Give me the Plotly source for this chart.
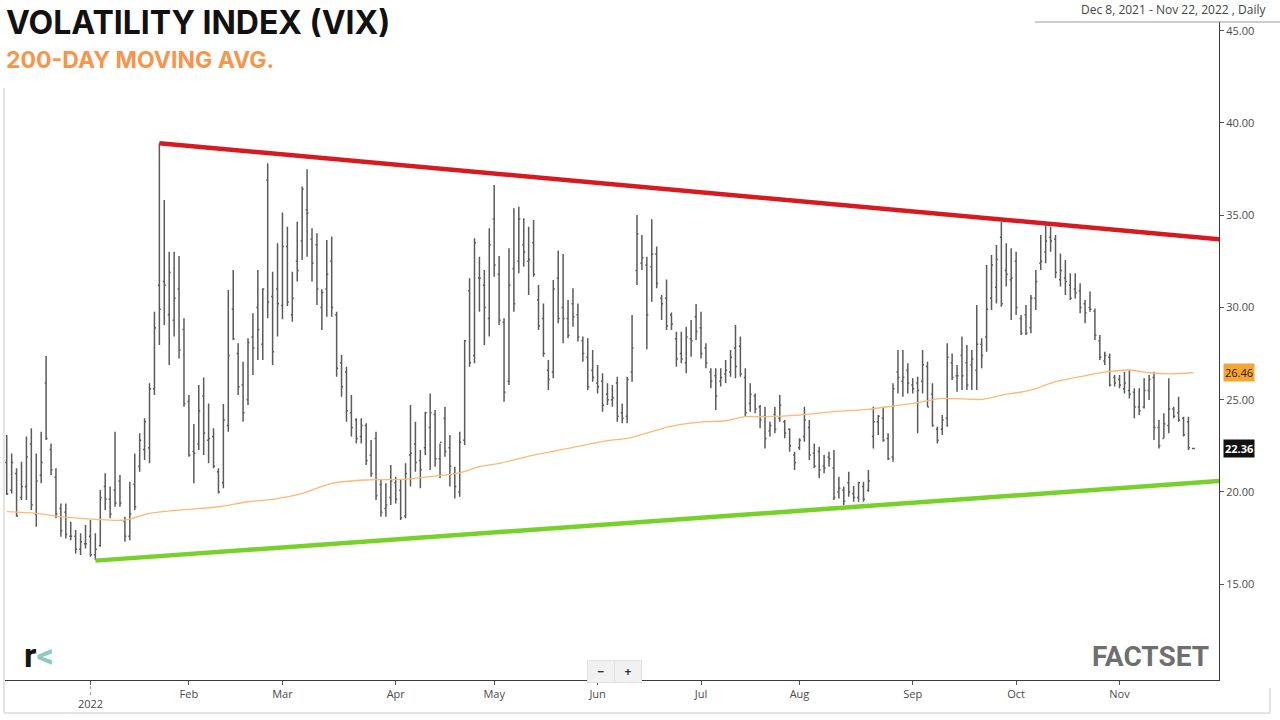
import plotly.graph_objects as go
import pandas as pd

# ---------------- trading calendar ----------------
holidays = ["2021-12-24", "2022-01-17", "2022-02-21", "2022-04-15", "2022-05-30",
            "2022-06-20", "2022-07-04", "2022-09-05", "2022-11-24"]
_days = pd.bdate_range("2021-12-08", "2022-12-02")
calendar = [d.strftime("%Y-%m-%d") for d in _days if d.strftime("%Y-%m-%d") not in holidays]
last_date = "2022-11-22"
dates = calendar[:calendar.index(last_date) + 1]

# ---------------- daily OHLC ----------------
high_dec = [23.09, 22.09, 21.28, 21.64, 23.00, 23.45, 22.09, 23.27, 27.37, 22.63, 21.28, 19.38, 19.38, 18.39, 17.94, 17.76, 18.21]
low_dec = [19.83, 19.92, 18.66, 19.56, 19.56, 19.02, 18.12, 20.47, 22.81, 20.92, 18.57, 17.57, 17.48, 17.39, 16.67, 16.58, 16.94]
open_dec = [21.6, 20.1, 21.0, 19.7, 20.3, 22.6, 18.8, 20.9, 25.9, 22.3, 20.8, 19.1, 18.9, 17.6, 17.6, 16.9, 17.2]
close_dec = [19.9, 21.6, 18.7, 20.3, 21.9, 19.3, 20.6, 21.6, 22.9, 21.2, 18.8, 17.9, 17.7, 17.6, 16.9, 17.3, 17.2]

high_jan = [18.48, 17.76, 20.11, 21.01, 20.29, 23.27, 20.92, 18.66, 20.56, 22.09, 23.18, 23.99, 25.89, 29.77, 38.90, 35.83, 33.02, 33.02, 32.79, 29.41]
low_jan = [16.49, 16.31, 17.03, 19.02, 18.57, 19.20, 19.20, 17.30, 17.39, 19.02, 21.10, 21.73, 21.55, 25.25, 27.97, 29.05, 26.88, 28.42, 27.24, 24.62]
open_jan = [17.6, 16.6, 17.1, 20.3, 19.6, 20.1, 20.6, 18.4, 17.6, 20.4, 21.4, 22.3, 22.4, 25.6, 31.2, 31.4, 29.6, 29.3, 31.0, 28.8]
close_jan = [16.6, 16.9, 19.7, 19.6, 18.8, 19.4, 19.4, 17.6, 18.8, 19.2, 22.8, 23.8, 25.6, 28.9, 29.9, 31.2, 31.9, 30.5, 27.7, 24.8]

high_feb = [25.25, 23.68, 25.80, 26.21, 24.80, 23.45, 21.28, 24.77, 30.95, 32.03, 28.06, 27.06, 28.33, 29.68, 32.03, 31.04, 37.81, 31.94, 33.48]
low_feb = [21.91, 20.47, 22.27, 22.00, 21.55, 21.28, 19.92, 20.20, 23.27, 28.24, 25.25, 23.81, 24.71, 26.34, 27.15, 27.15, 29.41, 26.88, 28.42]
open_feb = [24.9, 22.2, 22.6, 25.2, 22.8, 23.0, 21.1, 20.5, 23.6, 29.9, 27.5, 25.8, 25.0, 28.4, 30.0, 28.0, 36.9, 30.6, 31.0]
close_feb = [22.0, 22.1, 24.4, 23.2, 22.9, 21.4, 20.0, 23.9, 27.4, 28.3, 25.7, 24.3, 28.1, 27.8, 28.8, 31.0, 30.3, 27.6, 30.2]

high_mar = [35.14, 34.38, 31.94, 34.65, 36.55, 37.49, 34.29, 34.02, 30.98, 33.66, 33.84, 29.77, 27.42, 26.79, 25.25, 23.99, 23.99, 23.72, 22.82, 23.27, 20.65, 20.47, 21.46]
low_mar = [29.36, 30.08, 29.23, 31.40, 32.57, 32.75, 31.40, 30.13, 28.78, 29.50, 29.50, 26.25, 25.16, 23.81, 23.00, 22.63, 22.63, 21.46, 20.83, 19.56, 18.66, 18.66, 19.29]
open_mar = [30.1, 33.3, 29.6, 32.5, 33.6, 35.3, 33.7, 33.4, 30.0, 31.0, 32.5, 29.6, 27.0, 26.5, 24.3, 23.9, 23.0, 23.6, 22.0, 22.9, 20.4, 19.1, 19.7]
close_mar = [33.3, 30.3, 30.5, 32.0, 36.4, 35.1, 32.4, 31.0, 30.8, 31.8, 30.0, 26.7, 25.7, 24.4, 23.5, 22.9, 23.6, 21.7, 21.0, 19.8, 18.9, 19.3, 20.6]

high_apr = [20.83, 20.65, 21.55, 24.71, 23.81, 22.27, 24.35, 25.34, 24.44, 22.63, 24.62, 23.09, 21.37, 23.27, 28.24, 31.58, 33.75, 32.75, 32.03, 34.29]
low_apr = [19.38, 18.48, 18.57, 20.29, 21.10, 20.20, 22.00, 21.19, 21.37, 20.74, 21.91, 20.29, 19.65, 19.74, 22.54, 26.79, 26.97, 29.77, 27.97, 28.42]
open_apr = [20.5, 20.1, 18.7, 22.0, 22.6, 21.7, 22.4, 23.5, 24.2, 21.8, 24.0, 22.4, 21.0, 20.0, 22.8, 30.9, 27.4, 31.6, 31.2, 29.4]
close_apr = [19.6, 18.6, 21.0, 22.1, 21.6, 21.2, 24.3, 24.3, 21.8, 22.7, 22.2, 21.4, 20.3, 22.7, 28.2, 27.0, 33.5, 31.6, 30.0, 33.4]

high_may = [36.64, 32.79, 29.41, 33.21, 35.37, 35.46, 34.83, 34.38, 34.74, 31.22, 30.22, 27.15, 31.49, 33.08, 32.90, 30.40, 31.04, 30.22, 28.42, 28.33, 27.69]
low_may = [31.67, 29.05, 24.89, 25.80, 29.77, 31.85, 32.21, 30.68, 31.67, 28.78, 27.33, 25.52, 26.16, 29.14, 28.06, 28.33, 28.96, 28.15, 27.06, 25.52, 25.98]
open_may = [34.8, 31.8, 29.2, 26.0, 32.1, 32.5, 33.4, 32.5, 33.5, 30.4, 29.4, 26.6, 26.5, 31.6, 30.0, 29.4, 30.2, 29.6, 28.2, 27.3, 26.6]
close_may = [32.3, 29.3, 25.4, 31.2, 30.2, 34.8, 33.0, 32.6, 31.8, 29.0, 27.5, 26.1, 31.0, 29.4, 29.4, 28.5, 29.5, 28.4, 27.5, 25.7, 26.2]

high_jun = [26.88, 26.43, 25.89, 25.80, 26.25, 24.80, 26.25, 29.59, 35.01, 33.93, 32.75, 34.78, 33.30, 30.68, 31.52, 29.72, 28.69, 28.69, 28.96, 29.32, 30.19]
low_jun = [25.34, 24.35, 24.71, 24.62, 23.81, 23.72, 23.72, 25.98, 31.22, 32.03, 27.73, 30.31, 31.04, 29.32, 28.78, 28.78, 26.79, 26.97, 26.43, 27.33, 28.24]
open_jun = [25.9, 26.0, 25.3, 25.0, 25.9, 24.3, 24.1, 26.5, 32.0, 32.4, 32.3, 32.2, 32.9, 30.5, 30.5, 29.6, 28.3, 27.5, 27.0, 28.3, 29.5]
close_jun = [25.7, 24.7, 25.0, 25.1, 24.1, 24.0, 26.1, 27.8, 34.0, 32.7, 29.6, 32.9, 31.3, 30.2, 29.0, 29.1, 27.2, 27.2, 28.4, 28.2, 28.7]

high_jul = [29.77, 28.06, 26.70, 26.70, 26.70, 27.15, 27.69, 29.05, 28.42, 26.70, 25.89, 25.34, 24.71, 24.62, 23.81, 24.62, 25.25, 23.90, 23.45, 22.18]
low_jul = [27.24, 26.70, 25.62, 24.44, 25.71, 25.89, 26.25, 26.16, 26.25, 24.08, 24.35, 24.26, 23.45, 22.36, 23.00, 23.18, 23.81, 22.91, 22.18, 21.19]
open_jul = [28.9, 27.8, 26.5, 26.3, 26.0, 26.4, 26.5, 27.8, 27.9, 26.2, 24.8, 25.2, 24.6, 24.1, 23.3, 24.2, 24.0, 23.8, 23.4, 22.0]
close_jul = [27.5, 27.0, 26.0, 25.2, 26.2, 26.6, 27.3, 26.8, 26.4, 24.3, 25.3, 24.5, 23.9, 22.9, 23.6, 23.4, 24.7, 23.2, 22.5, 21.6]

high_aug = [22.91, 24.62, 23.90, 22.63, 22.45, 22.00, 22.18, 22.27, 20.83, 20.29, 21.10, 20.32, 20.56, 20.56, 21.19, 24.62, 24.17, 24.62, 23.18, 25.89, 27.69, 27.69, 26.97]
low_aug = [22.27, 22.72, 21.73, 21.28, 20.74, 21.01, 21.37, 19.56, 19.65, 19.29, 19.74, 19.47, 19.47, 19.47, 20.01, 22.36, 23.09, 22.72, 21.73, 21.64, 25.34, 25.16, 25.34]
open_aug = [22.4, 23.0, 23.5, 22.1, 22.2, 21.4, 21.9, 21.3, 20.0, 20.1, 20.5, 19.9, 19.7, 20.3, 20.1, 23.0, 23.8, 24.0, 22.9, 21.9, 26.5, 26.0, 26.6]
close_aug = [22.8, 23.9, 22.0, 21.4, 21.2, 21.3, 21.8, 19.7, 20.2, 19.5, 20.0, 19.7, 20.5, 19.6, 20.6, 23.8, 24.1, 22.8, 21.8, 25.6, 26.2, 26.2, 25.9]

high_sep = [26.16, 26.25, 27.69, 27.06, 25.89, 23.54, 24.17, 28.06, 27.51, 26.88, 28.42, 27.97, 27.69, 30.13, 28.33, 32.30, 32.84, 33.39, 34.65, 33.48, 33.21]
low_sep = [25.34, 23.18, 25.34, 24.62, 23.54, 22.63, 23.09, 23.54, 26.07, 25.43, 25.52, 25.52, 25.52, 25.52, 26.70, 27.60, 29.86, 30.22, 30.04, 31.13, 29.32]
open_sep = [25.8, 25.9, 26.0, 26.8, 25.3, 23.4, 23.4, 24.0, 27.0, 26.3, 27.4, 27.0, 26.9, 26.6, 28.0, 28.4, 30.5, 31.1, 33.8, 32.0, 31.5]
close_sep = [25.6, 25.5, 26.9, 24.6, 23.6, 22.8, 23.9, 27.3, 26.2, 26.3, 26.3, 25.8, 27.2, 28.0, 27.4, 29.9, 32.3, 32.6, 30.2, 31.8, 31.6]

high_oct = [33.02, 29.59, 30.13, 30.68, 32.03, 33.93, 34.47, 34.38, 33.93, 32.93, 32.57, 31.85, 31.85, 31.31, 30.40, 30.86, 29.95, 28.51, 27.60, 27.51, 26.34]
low_oct = [29.59, 28.51, 28.51, 28.60, 29.86, 32.03, 32.39, 33.02, 31.58, 31.13, 30.68, 30.40, 30.49, 29.68, 29.14, 29.77, 28.24, 27.15, 26.88, 25.71, 25.71]
open_oct = [32.5, 29.4, 29.6, 28.9, 30.5, 32.4, 33.0, 33.8, 33.7, 31.5, 31.6, 31.2, 31.0, 30.9, 30.2, 30.0, 29.8, 28.2, 27.1, 27.3, 26.2]
close_oct = [30.0, 28.6, 28.6, 30.5, 31.4, 32.5, 33.6, 33.6, 31.9, 32.0, 31.4, 30.5, 30.8, 30.0, 29.7, 29.9, 28.5, 27.3, 27.4, 25.8, 25.9]

high_nov = [26.34, 26.52, 26.61, 25.62, 25.62, 26.16, 26.34, 26.52, 23.90, 24.26, 26.16, 24.62, 25.16, 24.08, 24.08, 22.36]
low_nov = [25.62, 25.34, 25.07, 23.99, 24.17, 24.53, 24.98, 22.81, 22.36, 22.91, 23.18, 23.99, 23.81, 23.00, 22.27, 22.36]
open_nov = [26.1, 25.6, 25.5, 25.4, 24.6, 24.6, 25.5, 26.2, 23.5, 22.9, 23.6, 24.5, 24.3, 24.0, 23.8, 22.36]
close_nov = [25.8, 25.9, 25.3, 24.6, 24.4, 25.5, 26.1, 23.5, 22.5, 23.7, 24.5, 24.1, 23.9, 23.1, 22.4, 22.36]

highs = high_dec + high_jan + high_feb + high_mar + high_apr + high_may + high_jun + high_jul + high_aug + high_sep + high_oct + high_nov
lows = low_dec + low_jan + low_feb + low_mar + low_apr + low_may + low_jun + low_jul + low_aug + low_sep + low_oct + low_nov
opens = open_dec + open_jan + open_feb + open_mar + open_apr + open_may + open_jun + open_jul + open_aug + open_sep + open_oct + open_nov
closes = close_dec + close_jan + close_feb + close_mar + close_apr + close_may + close_jun + close_jul + close_aug + close_sep + close_oct + close_nov
assert len(highs) == len(lows) == len(opens) == len(closes) == len(dates)

# ---------------- 200-day moving average ----------------
ma_dates = ["2021-12-08", "2021-12-16", "2021-12-23", "2022-01-04", "2022-01-12", "2022-01-20", "2022-01-28",
            "2022-02-09", "2022-02-17", "2022-02-25", "2022-03-07", "2022-03-15", "2022-03-24", "2022-04-04",
            "2022-04-13", "2022-04-21", "2022-04-27", "2022-05-03", "2022-05-12", "2022-05-23", "2022-06-03",
            "2022-06-09", "2022-06-16", "2022-06-23", "2022-07-05", "2022-07-11", "2022-07-15", "2022-07-21",
            "2022-08-01", "2022-08-10", "2022-08-19", "2022-08-26", "2022-09-01", "2022-09-12", "2022-09-22",
            "2022-09-28", "2022-10-06", "2022-10-13", "2022-10-20", "2022-10-26", "2022-11-03", "2022-11-09",
            "2022-11-15", "2022-11-22"]
ma_values = [18.93, 18.84, 18.66, 18.52, 18.48, 18.84, 19.02,
             19.20, 19.47, 19.60, 19.92, 20.47, 20.65, 20.68,
             20.86, 21.04, 21.37, 21.55, 22.00, 22.36, 22.78,
             22.90, 23.27, 23.57, 23.81, 23.86, 24.08, 24.08,
             24.17, 24.35, 24.48, 24.66, 24.80, 25.07, 25.02,
             25.25, 25.52, 25.98, 26.25, 26.46, 26.61, 26.46,
             26.40, 26.46]

# ---------------- trend lines (anchor points) ----------------
red_anchor_dates = ["2022-01-24", "2022-10-11"]
red_anchor_values = [38.90, 34.55]
green_anchor_dates = ["2022-01-04", "2022-08-16"]
green_anchor_values = [16.28, 19.19]

# ---------------- axis labels ----------------
tick_dates = ["2022-01-03", "2022-02-01", "2022-03-01", "2022-04-01", "2022-05-02", "2022-06-01",
              "2022-07-01", "2022-08-01", "2022-09-01", "2022-10-03", "2022-11-01"]
tick_labels = ["", "Feb", "Mar", "Apr", "May", "Jun", "Jul", "Aug", "Sep", "Oct", "Nov"]
year_label = "2022"
year_date = "2022-01-03"
y_ticks = [15, 20, 25, 30, 35, 40, 45]

last_close = closes[-1]
last_ma = ma_values[-1]


def extend_line(anchor_dates, anchor_values, end_date):
    i0 = calendar.index(anchor_dates[0])
    i1 = calendar.index(anchor_dates[1])
    ie = calendar.index(end_date)
    slope = (anchor_values[1] - anchor_values[0]) / (i1 - i0)
    return [anchor_dates[0], end_date], [anchor_values[0], anchor_values[0] + slope * (ie - i0)]


end_date = calendar[-1]
red_x, red_y = extend_line(red_anchor_dates, red_anchor_values, end_date)
green_x, green_y = extend_line(green_anchor_dates, green_anchor_values, end_date)

BAR = "#5b5b5b"
fig = go.Figure()
fig.add_trace(go.Ohlc(
    x=dates, open=opens, high=highs, low=lows, close=closes,
    increasing=dict(line=dict(color=BAR, width=1.5)),
    decreasing=dict(line=dict(color=BAR, width=1.5)),
    tickwidth=0.3, hoverinfo="skip", showlegend=False,
))
fig.add_trace(go.Scatter(x=ma_dates, y=ma_values, mode="lines",
                         line=dict(color="#FDB877", width=1.3, shape="spline", smoothing=0.8),
                         hoverinfo="skip", showlegend=False))
fig.add_trace(go.Scatter(x=red_x, y=red_y, mode="lines",
                         line=dict(color="#D71920", width=4.5),
                         hoverinfo="skip", showlegend=False))
fig.add_trace(go.Scatter(x=green_x, y=green_y, mode="lines",
                         line=dict(color="#78D12B", width=4.5),
                         hoverinfo="skip", showlegend=False))

L, R, T, B = 5, 61, 22, 40
W, H = 1280, 720
pw, ph = W - L - R, H - T - B


def px(x):
    return (x - L) / pw


def py(y):
    return (H - B - y) / ph


jan_idx = calendar.index(year_date)
axis_font = dict(family="Open Sans, Lato, sans-serif", size=11, color="#4a4a4a")

annotations = [
    dict(text="<b>VOLATILITY INDEX (VIX)</b>", x=px(4), y=py(22), xref="paper", yref="paper",
         xanchor="left", yanchor="middle", showarrow=False,
         font=dict(family="Inter, Lato, sans-serif", size=32, color="#111111")),
    dict(text="<b>200-DAY MOVING AVG.</b>", x=px(4), y=py(60), xref="paper", yref="paper",
         xanchor="left", yanchor="middle", showarrow=False,
         font=dict(family="Inter, Lato, sans-serif", size=23, color="#F7954D")),
    dict(text="Dec 8, 2021 - Nov 22, 2022 , Daily", x=px(1268), y=py(10), xref="paper", yref="paper",
         xanchor="right", yanchor="middle", showarrow=False,
         font=dict(family="Open Sans, Lato, sans-serif", size=12, color="#444444")),
    dict(text=f"{last_ma:.2f}", x=1.003, y=last_ma, xref="paper", yref="y",
         xanchor="left", yanchor="middle", showarrow=False, bgcolor="#F5A532", borderpad=1,
         font=dict(family="Open Sans, sans-serif", size=11, color="#222222")),
    dict(text=f"<b>{last_close:.2f}</b>", x=1.003, y=last_close, xref="paper", yref="y",
         xanchor="left", yanchor="middle", showarrow=False, bgcolor="#111111", borderpad=1,
         font=dict(family="Open Sans, sans-serif", size=11, color="#ffffff")),
    dict(text=year_label, x=jan_idx, y=py(703), xref="x", yref="paper",
         xanchor="center", yanchor="middle", showarrow=False,
         font=axis_font),
    dict(text="<b>FACTSET</b>", x=px(1211), y=py(656), xref="paper", yref="paper",
         xanchor="right", yanchor="middle", showarrow=False,
         font=dict(family="Roboto, sans-serif", size=28, color="#6f6f6f")),
    dict(text='<b><span style="color:#151515">r</span><span style="color:#8fc9bd">&lt;</span></b>',
         x=px(22), y=py(655), xref="paper", yref="paper",
         xanchor="left", yanchor="middle", showarrow=False,
         font=dict(family="Roboto, sans-serif", size=34, color="#151515")),
    dict(text="<b>−</b>", x=px(601), y=py(671), xref="paper", yref="paper",
         xanchor="center", yanchor="middle", showarrow=False, bgcolor="#f1f1f1",
         bordercolor="#e2e2e2", borderwidth=1, borderpad=2, width=22,
         font=dict(family="Open Sans, sans-serif", size=12, color="#333333")),
    dict(text="<b>+</b>", x=px(628), y=py(671), xref="paper", yref="paper",
         xanchor="center", yanchor="middle", showarrow=False, bgcolor="#f1f1f1",
         bordercolor="#e2e2e2", borderwidth=1, borderpad=2, width=22,
         font=dict(family="Open Sans, sans-serif", size=12, color="#333333")),
]

shapes = [
    dict(type="line", xref="paper", yref="paper", x0=px(1035), x1=px(1280), y0=1, y1=1,
         line=dict(color="#9a9a9a", width=1)),
    dict(type="line", xref="x", yref="paper", x0=jan_idx, x1=jan_idx, y0=py(686), y1=py(696),
         line=dict(color="#999999", width=1, dash="dot")),
    dict(type="line", xref="paper", yref="paper", x0=px(4), x1=px(4), y0=py(88), y1=py(713),
         line=dict(color="#e4e4e4", width=2)),
    dict(type="line", xref="paper", yref="paper", x0=px(4), x1=px(1270), y0=py(713), y1=py(713),
         line=dict(color="#e4e4e4", width=2)),
    dict(type="line", xref="paper", yref="paper", x0=px(1270), x1=px(1270), y0=py(688), y1=py(713),
         line=dict(color="#e4e4e4", width=2)),
]

fig.update_layout(
    width=W, height=H,
    margin=dict(l=L, r=R, t=T, b=B, autoexpand=False),
    paper_bgcolor="white", plot_bgcolor="white",
    hovermode=False, showlegend=False,
    annotations=annotations, shapes=shapes,
    xaxis=dict(
        type="category", categoryorder="array", categoryarray=calendar,
        range=[-0.35, 246.2], rangeslider=dict(visible=False),
        showgrid=False, zeroline=False,
        showline=True, linecolor="#3a3a3a", linewidth=1,
        ticks="outside", ticklen=4, tickcolor="#555555",
        tickmode="array", tickvals=tick_dates, ticktext=tick_labels,
        tickfont=axis_font,
    ),
    yaxis=dict(
        side="right", range=[9.81, 45.47],
        showgrid=False, zeroline=False,
        showline=True, linecolor="#3a3a3a", linewidth=1,
        ticks="outside", ticklen=4, tickcolor="#555555",
        tickmode="array", tickvals=y_ticks, ticktext=[f"{v:.2f}" for v in y_ticks],
        tickfont=axis_font,
    ),
)

fig.write_html("out.html", config={"displayModeBar": False},
               post_script="document.body.style.margin='0';document.body.style.overflow='hidden';")
